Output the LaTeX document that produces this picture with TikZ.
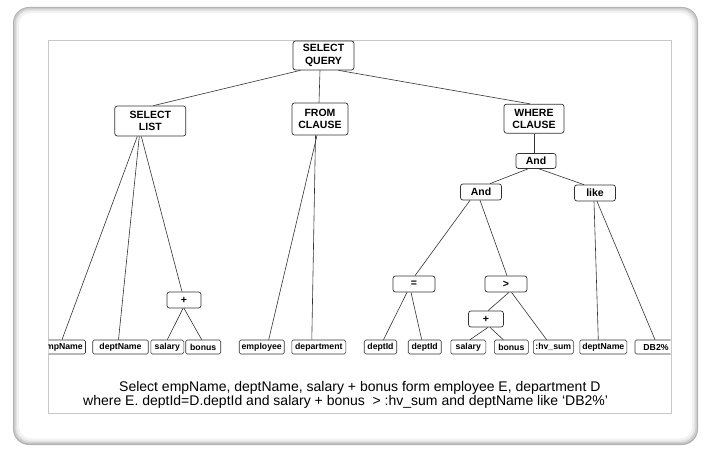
\documentclass[tikz,border=0pt]{standalone}
\usepackage{fontspec}
\setmainfont{Liberation Sans}
\begin{document}
\begin{tikzpicture}[x=1pt,y=-1pt,
  box/.style={draw=black!80, line width=0.7pt, rounded corners=2.5pt, fill=white, inner sep=0pt, align=center, font=\fontsize{10.5}{12.3}\selectfont\bfseries},
  leaf/.style={draw=black!80, line width=0.6pt, rounded corners=1.5pt, fill=white, inner sep=0pt, minimum height=14pt, font=\fontsize{8.7}{10}\selectfont\bfseries},
  conn/.style={draw=black!80, line width=0.6pt},
  captxt/.style={anchor=base west, inner sep=0pt, font=\fontsize{14}{14}\selectfont}]
\useasboundingbox (0,0) rectangle (704,449);
% outer frame with soft shadow
\fill[black!30, rounded corners=16pt] (13,7) rectangle (698,445);
\fill[black!20, rounded corners=15pt] (14,8) rectangle (697,443.5);
\fill[black!11, rounded corners=14pt] (15.5,9.5) rectangle (695.5,442);
\fill[black!5, rounded corners=13pt] (17,11) rectangle (694,440.5);
\fill[white, rounded corners=12pt] (19,13) rectangle (692,438.5);
% inner frame
\draw[black!22, line width=1pt] (48,40.5) rectangle (671,413.5);
\begin{scope}
\clip (48.5,30) rectangle (670.5,420);
% internal nodes
\node[box, minimum width=61pt, minimum height=29pt] (sq) at (323.5,55.5) {SELECT\\QUERY};
\node[box, minimum width=71pt, minimum height=30pt] (sl) at (150.3,121) {SELECT\\LIST};
\node[box, minimum width=56pt, minimum height=32pt] (fc) at (320,119) {FROM\\CLAUSE};
\node[box, minimum width=60pt, minimum height=29pt] (wc) at (534,118.7) {WHERE\\CLAUSE};
\node[box, minimum width=40pt, minimum height=15pt] (and1) at (536,161) {And};
\node[box, minimum width=41pt, minimum height=16pt] (and2) at (481,192) {And};
\node[box, minimum width=41pt, minimum height=16pt] (like) at (595,193) {like};
\node[box, minimum width=42pt, minimum height=16pt] (eq) at (414,284) {=};
\node[box, minimum width=42pt, minimum height=16pt] (gt) at (506,284) {>};
\node[box, minimum width=35pt, minimum height=16pt] (plus2) at (486,319) {+};
\node[box, minimum width=34pt, minimum height=16pt] (plus1) at (184,300) {+};
% leaves
\node[leaf, minimum width=47pt] (empName) at (62,347) {empName};
\node[leaf, minimum width=55.5pt] (deptName1) at (120.5,347) {deptName};
\node[leaf, minimum width=33pt] (salary1) at (167.3,347) {salary};
\node[leaf, minimum width=35pt] (bonus1) at (203.2,347) {bonus};
\node[leaf, minimum width=45pt] (employee) at (261.7,347) {employee};
\node[leaf, minimum width=54pt] (department) at (318.8,347) {department};
\node[leaf, minimum width=32.5pt] (deptId1) at (380.5,347) {deptId};
\node[leaf, minimum width=33pt] (deptId2) at (424.7,347) {deptId};
\node[leaf, minimum width=35pt] (salary2) at (468.3,347) {salary};
\node[leaf, minimum width=34pt] (bonus2) at (511.3,347) {bonus};
\node[leaf, minimum width=40pt] (hvsum) at (553.3,347) {:hv\_sum};
\node[leaf, minimum width=47pt] (deptName2) at (603.3,347) {deptName};
\node[leaf, minimum width=42pt] (db2) at (656,347) {DB2\%};
% connectors
\draw[conn] ([xshift=-23pt]sq.south) -- ([xshift=3pt]sl.north);
\draw[conn] ([xshift=-3.5pt]sq.south) -- ([xshift=-1pt]fc.north);
\draw[conn] ([xshift=15pt]sq.south) -- ([xshift=-4pt]wc.north);
\draw[conn] ([xshift=-13pt]sl.south) -- (empName.north);
\draw[conn] ([xshift=-11pt]sl.south) -- ([xshift=-2pt]deptName1.north);
\draw[conn] ([xshift=-9pt]sl.south) -- ([xshift=-2pt]plus1.north);
\draw[conn] ([xshift=-3pt]fc.south) -- ([xshift=7pt]employee.north);
\draw[conn] ([xshift=-4.5pt]fc.south) -- ([xshift=-7pt]department.north);
\draw[conn] ([xshift=-1pt]plus1.south) -- (salary1.north);
\draw[conn] (plus1.south) -- ([xshift=-1.5pt]bonus1.north);
\draw[conn] (wc.south) -- ([xshift=-2pt]and1.north);
\draw[conn] ([xshift=-8pt]and1.south) -- ([xshift=9pt]and2.north);
\draw[conn] ([xshift=3pt]and1.south) -- ([xshift=-11pt]like.north);
\draw[conn] ([xshift=-11pt]and2.south) -- ([xshift=1pt]eq.north);
\draw[conn] ([xshift=-1pt]and2.south) -- ([xshift=1pt]gt.north);
\draw[conn] ([xshift=-1pt]like.south) -- ([xshift=-5pt]deptName2.north);
\draw[conn] ([xshift=2pt]like.south) -- ([xshift=-1pt]db2.north);
\draw[conn] ([xshift=-7pt]eq.south) -- ([xshift=3pt]deptId1.north);
\draw[conn] ([xshift=-3pt]eq.south) -- ([xshift=-3pt]deptId2.north);
\draw[conn] ([xshift=3pt]gt.south) -- ([xshift=2pt]plus2.north);
\draw[conn] ([xshift=5.5pt]gt.south) -- ([xshift=-6.7pt]hvsum.north);
\draw[conn] ([xshift=2pt]plus2.south) -- ([xshift=1.7pt]salary2.north);
\draw[conn] ([xshift=4pt]plus2.south) -- ([xshift=-8pt]bonus2.north);
\end{scope}
% caption
\node[captxt] (cap1) at (119,391.7) {Select empName, deptName, salary + bonus form employee E, department D};
\node[captxt] (cap2) at (83,405.7) {where E. deptId=D.deptId and salary + bonus\ \ > :hv\_sum and deptName like ‘DB2\%’};
\end{tikzpicture}
\end{document}
